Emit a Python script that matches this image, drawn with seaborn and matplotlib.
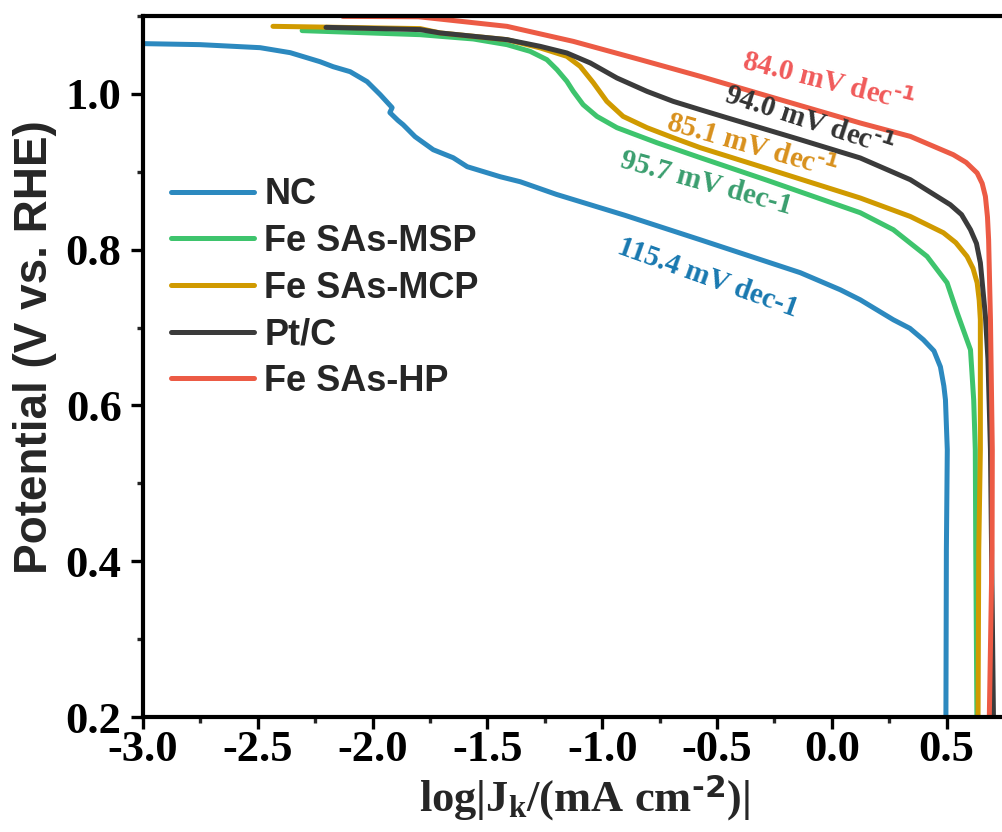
import numpy as np
import pandas as pd
import matplotlib
matplotlib.use("Agg")
import matplotlib.pyplot as plt
import seaborn as sns
from matplotlib.ticker import MultipleLocator

# ---------------- data ----------------
categories = ["NC", "Fe SAs-MSP", "Fe SAs-MCP", "Pt/C", "Fe SAs-HP"]

nc_x = [-3.000, -2.752, -2.490, -2.359, -2.229, -2.172, -2.098, -2.024, -1.967,
        -1.915, -1.925, -1.890, -1.867, -1.815, -1.736, -1.649, -1.588, -1.444,
        -1.357, -1.200, -0.900, -0.573, -0.137, 0.037, 0.124, 0.268, 0.340, 0.399,
        0.445, 0.473, 0.488, 0.495, 0.503, 0.499, 0.497]
nc_y = [1.0645, 1.0632, 1.0593, 1.0529, 1.0413, 1.0349, 1.0285, 1.0157, 0.9990,
        0.9823, 0.9760, 0.9660, 0.9604, 0.9450, 0.9283, 0.9180, 0.9065, 0.8936,
        0.8872, 0.8710, 0.8440, 0.8127, 0.7704, 0.7485, 0.7356, 0.7100, 0.6990, 0.6843,
        0.6700, 0.6496, 0.6250, 0.6072, 0.5430, 0.4145, 0.2000]

msp_x = [-2.307, -1.793, -1.706, -1.562, -1.415, -1.314, -1.241, -1.197, -1.154,
         -1.126, -1.083, -1.023, -0.936, -0.762, -0.573, -0.281, 0.124, 0.268,
         0.415, 0.502, 0.546, 0.604, 0.618, 0.625, 0.627, 0.632]
msp_y = [1.0812, 1.0760, 1.0739, 1.0705, 1.0632, 1.0546, 1.0439, 1.0311, 1.0161,
         1.0032, 0.9861, 0.9711, 0.9566, 0.9373, 0.9181, 0.8890, 0.8474, 0.8256,
         0.7913, 0.7575, 0.7190, 0.6714, 0.6070, 0.5430, 0.4145, 0.2000]

mcp_x = [-2.434, -1.793, -1.706, -1.415, -1.270, -1.154, -1.096, -1.039, -0.980,
         -0.909, -0.805, -0.691, -0.573, -0.281, 0.124, 0.342, 0.486, 0.540,
         0.589, 0.615, 0.633, 0.642, 0.647, 0.647, 0.647, 0.640, 0.637]
mcp_y = [1.0867, 1.0838, 1.0782, 1.0696, 1.0590, 1.0482, 1.0353, 1.0144, 0.9904,
         0.9711, 0.9566, 0.9437, 0.9309, 0.9040, 0.8663, 0.8426, 0.8217, 0.8090,
         0.7913, 0.7760, 0.7575, 0.7350, 0.7100, 0.6500, 0.5430, 0.4145, 0.2000]

pt_x = [-2.203, -1.793, -1.706, -1.415, -1.270, -1.154, -1.052, -0.936, -0.805,
        -0.691, -0.573, -0.464, -0.137, 0.124, 0.342, 0.516, 0.565, 0.604, 0.630,
        0.647, 0.669, 0.680, 0.691, 0.704]
pt_y = [1.0854, 1.0825, 1.0782, 1.0696, 1.0610, 1.0525, 1.0397, 1.0204, 1.0032,
        0.9904, 0.9797, 0.9700, 0.9412, 0.9177, 0.8898, 0.8577, 0.8450, 0.8256,
        0.8080, 0.7832, 0.7150, 0.6600, 0.5430, 0.2000]

hp_x = [-2.130, -1.800, -1.706, -1.415, -1.126, -0.834, -0.573, -0.250, 0.124,
        0.342, 0.529, 0.585, 0.633, 0.655, 0.669, 0.678, 0.683, 0.691, 0.699,
        0.698, 0.686]
hp_y = [1.0995, 1.0990, 1.0960, 1.0867, 1.0674, 1.0439, 1.0225, 0.9947, 0.9626,
        0.9454, 0.9219, 0.9120, 0.8984, 0.8850, 0.8683, 0.8420, 0.8127, 0.7100,
        0.5430, 0.4145, 0.2000]

line_colors = ["#2c89bf", "#3ec46d", "#d09a00", "#3b3b3b", "#ec5b45"]

slope_labels = ["115.4 mV dec-1", "95.7 mV dec-1", r"85.1 mV dec$^{\text{-1}}$",
                r"94.0 mV dec$^{\text{-1}}$", r"84.0 mV dec$^{\text{-1}}$"]
label_x = [-0.538, -0.547, -0.351, -0.098, -0.015]
label_y = [0.764, 0.885, 0.932, 0.964, 1.0144]
label_rot = [-19.7, -15.5, -16.0, -18.0, -14.0]
label_colors = ["#1878b0", "#3a9e6e", "#d8901c", "#333333", "#f05a5a"]

x_ticks = [-3.0, -2.5, -2.0, -1.5, -1.0, -0.5, 0.0, 0.5]
y_ticks = [0.2, 0.4, 0.6, 0.8, 1.0]

# ---------------- build table ----------------
series = [(nc_x, nc_y), (msp_x, msp_y), (mcp_x, mcp_y), (pt_x, pt_y), (hp_x, hp_y)]
frames = []
for name, (xs, ys) in zip(categories, series):
    frames.append(pd.DataFrame({"x": xs, "y": ys, "sample": name}))
df = pd.concat(frames, ignore_index=True)

# ---------------- style ----------------
sns.set_style("ticks")
plt.rcParams["font.family"] = ["Liberation Serif", "DejaVu Serif"]
plt.rcParams["font.weight"] = "bold"
plt.rcParams["mathtext.default"] = "regular"
plt.rcParams["axes.unicode_minus"] = False

fig = plt.figure(figsize=(10.03, 8.32), dpi=100)
ax = fig.add_axes([0.1426, 0.1382, 0.8584, 0.8426])

sns.lineplot(data=df, x="x", y="y", hue="sample", hue_order=categories,
             palette=line_colors, sort=False, estimator=None, units="sample",
             linewidth=3.6, legend=False, ax=ax)
for ln in ax.lines:
    ln.set_solid_joinstyle("round")
    ln.set_solid_capstyle("round")

ax.set_xlim(-3.0, 0.75)
ax.set_ylim(0.2, 1.1)
ax.set_xticks(x_ticks)
ax.set_yticks(y_ticks)
ax.xaxis.set_minor_locator(MultipleLocator(0.25))
ax.yaxis.set_minor_locator(MultipleLocator(0.1))
ax.set_xticklabels([f"{v:.1f}" for v in x_ticks])
ax.set_yticklabels([f"{v:.1f}" for v in y_ticks])

for s in ["left", "bottom", "top"]:
    ax.spines[s].set_linewidth(3.0)
    ax.spines[s].set_color("black")
ax.spines["right"].set_visible(False)

ax.tick_params(axis="both", which="major", length=8.5, width=2.4, direction="out",
               labelsize=32, colors="black")
ax.tick_params(axis="both", which="minor", length=4.5, width=2.4, direction="out")
ax.tick_params(axis="x", which="major", pad=1)
ax.tick_params(axis="y", which="major", pad=7)
ax.tick_params(top=False, right=False, which="both")
for lab in ax.get_xticklabels() + ax.get_yticklabels():
    lab.set_fontweight("bold")
    lab.set_family(["Liberation Serif"])

ax.set_xlabel(r"log|J$_{k}$/(mA cm$^{\text{-2}}$)|", fontsize=32, fontweight="bold",
              family=["Liberation Serif"])
ax.set_ylabel("Potential (V vs. RHE)", fontsize=33, fontweight="bold",
              family=["Liberation Sans"])
ax.xaxis.set_label_coords(0.513, -0.079)
ax.yaxis.set_label_coords(-0.100, 0.527)

for txt, lx, ly, rot, c in zip(slope_labels, label_x, label_y, label_rot, label_colors):
    ax.text(lx, ly, txt, color=c, fontsize=21, fontweight="bold", rotation=rot,
            rotation_mode="anchor", ha="center", va="center",
            family=["Liberation Serif"])

handles = ax.lines[:len(categories)]
leg = ax.legend(handles, categories, loc="upper left", bbox_to_anchor=(0.032, 0.7696),
                frameon=False, borderpad=0, borderaxespad=0, handlelength=2.3,
                handletextpad=0.3, labelspacing=0.32,
                prop={"family": "Liberation Sans", "weight": "bold", "size": 26})

fig.savefig("out.png", dpi=100)
